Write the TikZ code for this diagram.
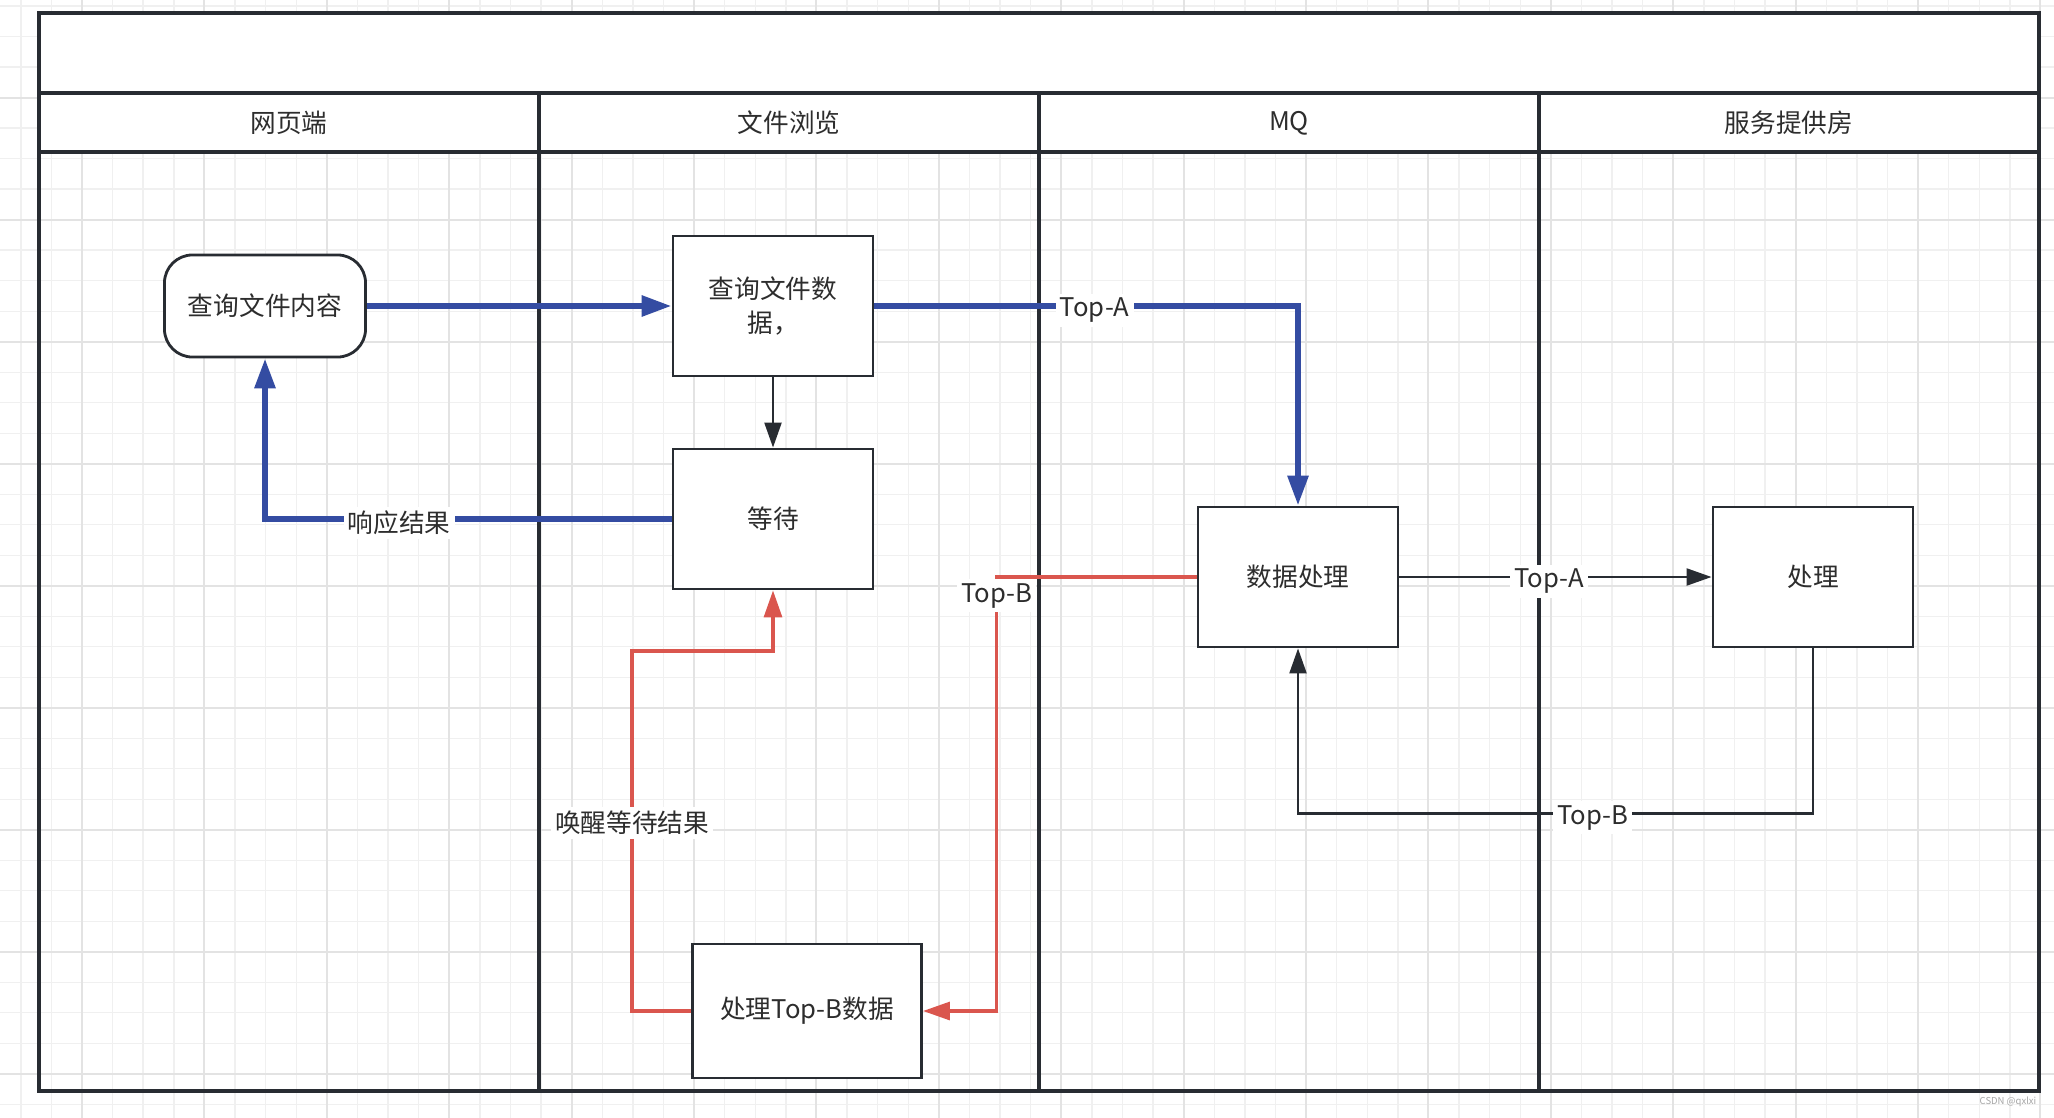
\documentclass[tikz,border=0pt]{standalone}
\usepackage{fontspec}
\setmainfont{Noto Sans CJK SC}
\usepackage{tikz}
\usetikzlibrary{arrows.meta}
\definecolor{linecol}{RGB}{40,44,50}
\definecolor{textcol}{RGB}{45,45,45}
\definecolor{bluecol}{RGB}{52,76,162}
\definecolor{redcol}{RGB}{218,86,78}
\tikzstyle{minorgrid}=[black!6,line width=0.4pt]
\tikzstyle{majorgrid}=[black!11,line width=0.6pt]
\tikzstyle{lane}=[draw=linecol,line width=1pt]
\tikzstyle{hdr}=[text=textcol]
\tikzstyle{box}=[draw=linecol,fill=white,line width=0.8pt,text=textcol,align=center,
                minimum width=2cm,minimum height=1.4cm]
\tikzstyle{startbox}=[box,rounded corners=0.28cm,minimum width=2.01cm,minimum height=1.02cm]
\tikzstyle{lbl}=[fill=white,inner sep=1.2pt,text=textcol,yshift=-1.2pt]
\tikzstyle{bluepath}=[draw=bluecol,line width=1.7pt,-{Triangle[length=0.3cm,width=0.2cm]}]
\tikzstyle{redpath}=[draw=redcol,line width=0.9pt,-{Triangle[length=0.27cm,width=0.18cm]}]
\tikzstyle{blackpath}=[draw=linecol,line width=0.65pt,-{Triangle[length=0.25cm,width=0.17cm]}]

\begin{document}
\begin{tikzpicture}[x=0.01cm,y=-0.01cm,font=\fontsize{7.3}{9.7}\selectfont]
\useasboundingbox (0,0) rectangle (2054,1118);
\fill[white] (0,0) rectangle (2054,1118);
\foreach \i in {-3,...,64} \draw[minorgrid] ({82+30.6*\i},0) -- ({82+30.6*\i},1118);
\foreach \j in {-1,...,35} \draw[minorgrid] (0,{36.7+30.5*\j}) -- (2054,{36.7+30.5*\j});
\foreach \i in {0,...,16} \draw[majorgrid] ({82+122.4*\i},0) -- ({82+122.4*\i},1118);
\foreach \j in {0,...,8} \draw[majorgrid] (0,{97.7+122*\j}) -- (2054,{97.7+122*\j});
\fill[white] (39,13) rectangle (2039,152);
\draw[lane] (39,13) rectangle (2039,1091);
\draw[lane] (39,93) -- (2039,93) (39,152) -- (2039,152);
\foreach \x in {539,1039,1539} \draw[lane] (\x,93) -- (\x,1091);

\node[hdr] (hweb) at (289,123) {网页端};
\node[hdr] (hfile) at (789,123) {文件浏览};
\node[hdr] (hmq) at (1289,123) {MQ};
\node[hdr] (hsvc) at (1789,123) {服务提供房};

\node[startbox] (query) at (265,306) {查询文件内容};
\node[box] (askdata) at (773,306) {查询文件数\\据，};
\node[box] (waitbox) at (773,519) {等待};
\node[box] (dataproc) at (1298,577) {数据处理};
\node[box] (handler) at (1813,577) {处理};
\node[box,minimum width=2.29cm,minimum height=1.34cm] (topb) at (807,1011) {处理Top-B数据};

\draw[bluepath] (query.east) -- (askdata.west);
\draw[blackpath] (askdata) -- (waitbox);
\draw[bluepath] (askdata.east) -| node[lbl,pos=0.26]{Top-A} (dataproc.north);
\draw[bluepath] (waitbox.west) -| node[lbl,pos=0.335]{响应结果} (query.south);
\draw[redpath] (dataproc.west) -- ++(-200,0) node[lbl,anchor=north,yshift=1pt]{Top-B} |- (topb.east);
\draw[redpath] (topb.west) -- ++(-59,0) -- node[lbl,pos=0.535]{唤醒等待结果} ++(0,-360) -| (waitbox.south);
\draw[blackpath] (dataproc.east) -- node[lbl,pos=0.48]{Top-A} (handler.west);
\draw[blackpath] (handler.south) -- ++(0,165) -| node[lbl,pos=0.214]{Top-B} (dataproc.south);

\node[text=black!35,font=\fontsize{2.7}{3}\selectfont] (mark) at (2008,1102) {CSDN @qxlxi};
\end{tikzpicture}
\end{document}
